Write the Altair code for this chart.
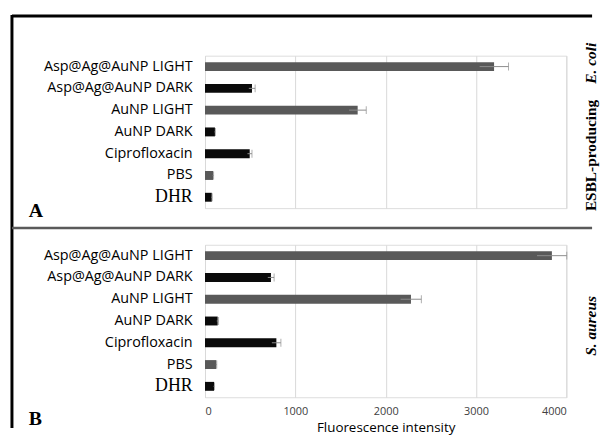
import altair as alt
import pandas as pd

categories = ["Asp@Ag@AuNP LIGHT", "Asp@Ag@AuNP DARK", "AuNP LIGHT", "AuNP DARK",
              "Ciprofloxacin", "PBS", "DHR"]
ecoli_vals = [3200, 520, 1690, 110, 495, 90, 75]
ecoli_err = [160, 35, 95, 5, 25, 5, 5]
saureus_vals = [3840, 730, 2280, 140, 790, 125, 100]
saureus_err = [165, 35, 115, 10, 50, 5, 5]
x_ticks = [0, 1000, 2000, 3000, 4000]

SANS = "Open Sans"
SERIF = "Liberation Serif"

label_font = {"condition": {"test": "datum.value == 'DHR'", "value": SERIF}, "value": SANS}
label_size = {"condition": {"test": "datum.value == 'DHR'", "value": 18}, "value": 14.5}

deco = pd.DataFrame({"k": [0]})


def panel(vals, errs, show_x, letter, extra):
    df = pd.DataFrame({"Treatment": categories, "value": vals, "err": errs})
    df["lo"] = df["value"] - df["err"]
    df["hi"] = df["value"] + df["err"]
    if show_x:
        xaxis = alt.Axis(values=x_ticks, format="d", title="Fluorescence intensity", ticks=False,
                         domain=False, grid=True, gridColor="#d9d9d9", labelFont=SANS,
                         labelFontSize=11, labelColor="#404040", labelPadding=8, titleFont=SANS,
                         titleFontSize=13.5, titleFontWeight="normal", titleColor="black",
                         titlePadding=5)
    else:
        xaxis = alt.Axis(values=x_ticks, title=None, labels=False, ticks=False, domain=False,
                         grid=True, gridColor="#d9d9d9")
    xs = alt.Scale(domain=[0, 4000], nice=False)
    yenc = alt.Y("Treatment:N", sort=categories,
                 axis=alt.Axis(title=None, ticks=False, domain=False, labelPadding=13,
                               labelFont=label_font, labelFontSize=label_size,
                               labelColor="black", labelLimit=300))
    base = alt.Chart(df)
    bars = base.mark_bar(size=9).encode(
        x=alt.X("value:Q", scale=xs, axis=xaxis),
        y=yenc,
        color=alt.condition("indexof(datum.Treatment, 'LIGHT') >= 0 || datum.Treatment == 'PBS'",
                            alt.value("#595959"), alt.value("#0a0a0a")),
    )
    err = base.mark_rule(color="#8c8c8c", strokeWidth=1).encode(
        x=alt.X("lo:Q", scale=xs), x2="hi:Q", y=alt.Y("Treatment:N", sort=categories))
    cap = base.mark_tick(color="#8c8c8c", thickness=1, size=8).encode(
        x=alt.X("hi:Q", scale=xs), y=alt.Y("Treatment:N", sort=categories))
    letter_txt = alt.Chart(deco).mark_text(font=SERIF, fontSize=20, fontWeight="bold",
                                           align="left", baseline="middle", color="black").encode(
        x=alt.value(-178), y=alt.value(letter[1]), text=alt.value(letter[0]))
    layers = [bars, err, cap, letter_txt] + extra
    return alt.layer(*layers).properties(width=365, height=154)


top_extra = [
    alt.Chart(deco).mark_text(font=SERIF, fontSize=15.5, fontWeight="bold", angle=270,
                              align="left", baseline="middle", color="black").encode(
        x=alt.value(390), y=alt.value(157), text=alt.value("ESBL-producing")),
    alt.Chart(deco).mark_text(font=SERIF, fontSize=15.5, fontWeight="bold", fontStyle="italic",
                              angle=270, align="right", baseline="middle", color="black").encode(
        x=alt.value(390), y=alt.value(-13), text=alt.value("E. coli")),
    # frame
    alt.Chart(deco).mark_rule(color="black", strokeWidth=3).encode(
        x=alt.value(-195), x2=alt.value(391), y=alt.value(-40)),
    alt.Chart(deco).mark_rule(color="black", strokeWidth=3).encode(
        x=alt.value(-195), y=alt.value(-41), y2=alt.value(376)),
    alt.Chart(deco).mark_rule(color="#5a5a5a", strokeWidth=2.5).encode(
        x=alt.value(-195), x2=alt.value(391), y=alt.value(174)),
]
bottom_extra = [
    alt.Chart(deco).mark_text(font=SERIF, fontSize=15.5, fontWeight="bold", fontStyle="italic",
                              angle=270, align="center", baseline="middle", color="black").encode(
        x=alt.value(390), y=alt.value(82), text=alt.value("S. aureus")),
]

top = panel(ecoli_vals, ecoli_err, False, ("A", 157), top_extra)
bottom = panel(saureus_vals, saureus_err, True, ("B", 176), bottom_extra)

chart = alt.vconcat(top, bottom, spacing=37, bounds="flush").properties(
    padding={"left": 2, "top": 3, "right": 0, "bottom": 0}
).configure_view(stroke=None).configure(background="white")

chart.save("out.html", embed_options={"renderer": "svg", "actions": False})
